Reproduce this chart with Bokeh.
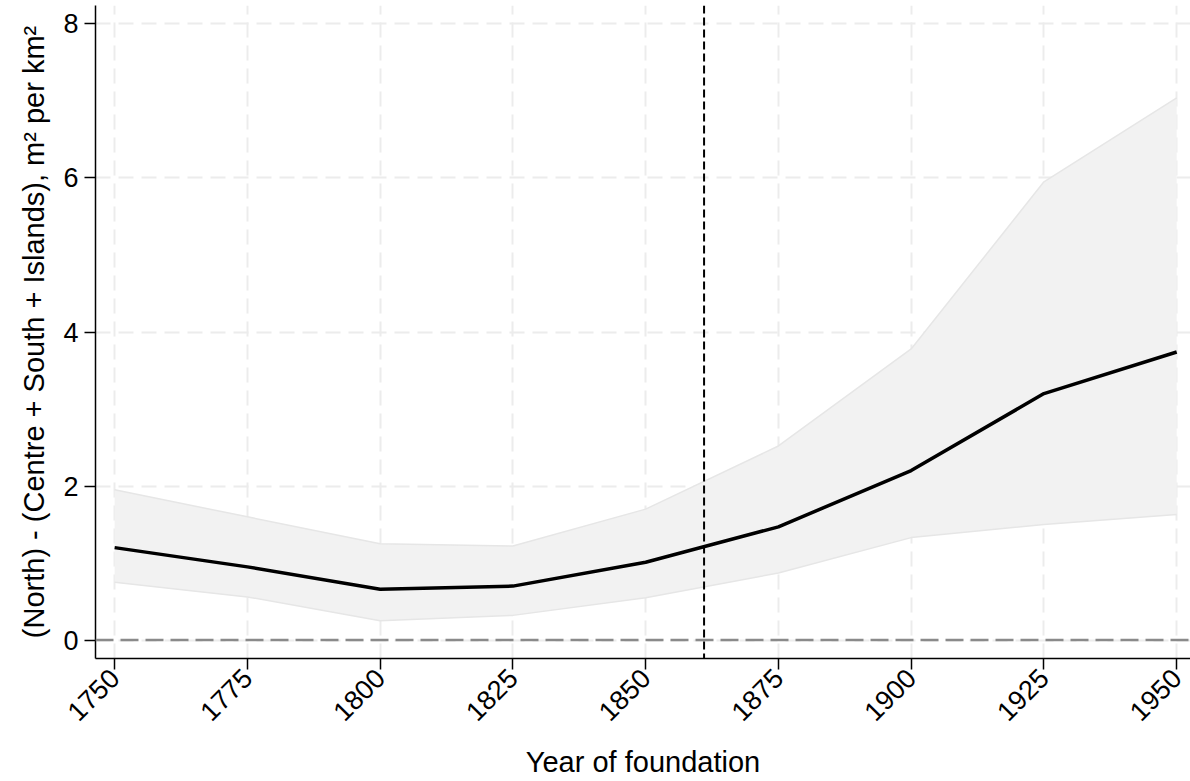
import math
from bokeh.plotting import figure
from bokeh.models import Span, FixedTicker, ColumnDataSource
from bokeh.embed import file_html
from bokeh.resources import INLINE

years = [1750, 1775, 1800, 1825, 1850, 1875, 1900, 1925, 1950]
estimate = [1.20, 0.95, 0.66, 0.70, 1.01, 1.47, 2.20, 3.20, 3.74]
upper = [1.95, 1.60, 1.25, 1.22, 1.70, 2.52, 3.78, 5.95, 7.04]
lower = [0.75, 0.56, 0.25, 0.32, 0.55, 0.87, 1.33, 1.50, 1.63]
x_ticks = [1750, 1775, 1800, 1825, 1850, 1875, 1900, 1925, 1950]
y_ticks = [0, 2, 4, 6, 8]
unification_year = 1861

FONT = "Liberation Sans"

p = figure(width=1190, height=781, output_backend="svg", toolbar_location=None,
           x_range=(1746.4, 1952.6), y_range=(-0.24, 8.24),
           min_border_left=95, min_border_right=0, min_border_top=5, min_border_bottom=0)
p.outline_line_color = None
p.background_fill_color = "white"

src = ColumnDataSource(dict(x=years, y=estimate, lo=lower, hi=upper))
p.varea(x="x", y1="lo", y2="hi", source=src, fill_color="#f2f2f2")
p.line(x="x", y="hi", source=src, line_color="#e6e6e6", line_width=1.5)
p.line(x="x", y="lo", source=src, line_color="#e6e6e6", line_width=1.5)

p.add_layout(Span(location=0, dimension="width", line_color="#8a8a8a",
                  line_width=2.5, line_dash="18 7"))
p.add_layout(Span(location=unification_year, dimension="height", line_color="black",
                  line_width=2, line_dash="8 4"))

p.line(x="x", y="y", source=src, line_color="black", line_width=3.5)

for g in (p.xgrid, p.ygrid):
    g.grid_line_color = "#ececec"
    g.grid_line_width = 2
    g.grid_line_dash = "15 8"

p.xaxis.ticker = FixedTicker(ticks=x_ticks)
p.yaxis.ticker = FixedTicker(ticks=y_ticks)
p.xaxis.major_label_orientation = math.pi / 4
for ax in (p.xaxis, p.yaxis):
    ax.axis_line_color = "black"
    ax.axis_line_width = 1.5
    ax.major_tick_line_color = "black"
    ax.major_tick_line_width = 1.5
    ax.major_tick_out = 11
    ax.major_tick_in = 0
    ax.minor_tick_line_color = None
    ax.major_label_text_font = FONT
    ax.major_label_text_font_size = "27px"
    ax.major_label_text_color = "black"
    ax.axis_label_text_font = FONT
    ax.axis_label_text_font_size = "29px"
    ax.axis_label_text_font_style = "normal"
    ax.axis_label_text_color = "black"

p.xaxis.axis_label = "Year of foundation"
p.yaxis.axis_label = "(North) - (Centre + South + Islands), m\u00b2 per km\u00b2"
p.xaxis.axis_label_standoff = 14
p.yaxis.axis_label_standoff = 10
p.xaxis.major_label_standoff = 4
p.yaxis.major_label_standoff = 6

open("out.html", "w").write(file_html(p, INLINE))
